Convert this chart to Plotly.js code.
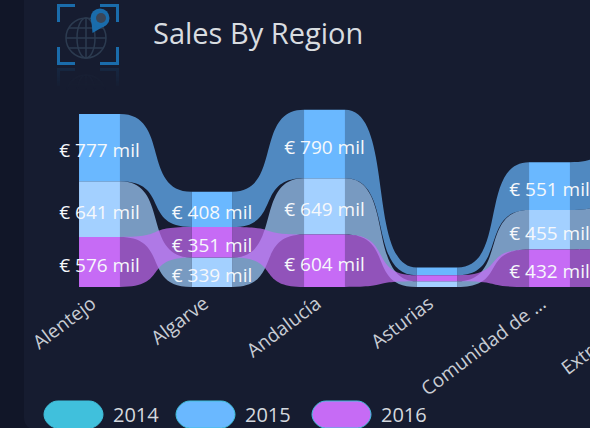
<!DOCTYPE html>
<html>
<head>
<meta charset="utf-8">
<script src="https://cdn.plot.ly/plotly-3.0.1.min.js"></script>
<style>
  html, body { margin: 0; width: 590px; height: 428px; overflow: hidden; background: #111628; }
  #card { position: absolute; left: 24px; top: -30px; width: 620px; height: 460px; background: #161c30; border-radius: 12px; }
  #icon { position: absolute; left: 50px; top: 0; }
  #plot { position: absolute; left: 0; top: 0; }
</style>
</head>
<body>
<div id="card"></div>
<div id="plot"></div>
<svg id="icon" width="80" height="100" viewBox="50 0 80 100">
  <defs>
    <g id="mark" fill="none">
      <path d="M75 5.500H58.500V22M100 5.500H117.500V22M58.500 47V63.500H75M117.500 47V63.500H100" stroke="#1a6cab" stroke-width="3"/>
      <g stroke="#2c3b50" stroke-width="1.500">
        <circle cx="86" cy="38" r="20"/>
        <ellipse cx="86" cy="38" rx="9" ry="20"/>
        <path d="M86 18V58M66 38H106M69 28H103M69 48H103"/>
      </g>
      <path d="M92.500 33 L91 17 L106 25 Z" fill="#1a6cab"/>
      <circle cx="100" cy="18" r="9.500" fill="#1a6cab"/>
      <circle cx="101" cy="18" r="5" fill="#3a4658"/>
    </g>
    <linearGradient id="fade" x1="0" y1="0" x2="0" y2="1">
      <stop offset="0" stop-color="#fff" stop-opacity="0.16"/>
      <stop offset="1" stop-color="#fff" stop-opacity="0"/>
    </linearGradient>
    <mask id="reflect" maskUnits="userSpaceOnUse" x="50" y="66" width="80" height="24">
      <rect x="50" y="66" width="80" height="24" fill="url(#fade)"/>
    </mask>
  </defs>
  <use href="#mark"/>
  <g mask="url(#reflect)"><use href="#mark" transform="matrix(1 0 0 -1 0 133)"/></g>
</svg>
<script>
"use strict";

// Values in thousands of euro (Asturias and Extremadura are estimates)
const regions = ["Alentejo", "Algarve", "Andalucía", "Asturias", "Comunidad de ...", "Extremadura"];
const years = ["2014", "2015", "2016"];
const sales2014 = [641, 339, 649, 65, 455, 617];
const sales2015 = [777, 408, 790, 90, 551, 663];
const sales2016 = [576, 351, 604, 70, 432, 480];
const hiddenLabels = ["Asturias"];

const barColors = ["#a3d0ff", "#6ab8ff", "#c66bf5"];
const legendColors = ["#40c0dc", "#6ab8ff", "#c66bf5"];
const series = [sales2014, sales2015, sales2016];

const W = 700, H = 428, plotBottom = 287;
const pxPerUnit = 0.0868;
const barWidth = 0.364;
const tickShift = 0.07;      // rotated labels end left of the bar centre
const labelDrop = 5 / pxPerUnit;

const pxX = px => px / W;
const pxY = px => (plotBottom - px) / plotBottom;

// ribbon charts re-rank every category: largest on top
function stackBases() {
    return regions.map((_, i) => {
        const order = series.map((s, k) => k).sort((a, b) => series[a][i] - series[b][i]);
        const bases = [0, 0, 0];
        let sum = 0;
        for (const k of order) { bases[k] = sum; sum += series[k][i]; }
        return bases;
    });
}
const bases = stackBases();

function ribbonPath(k, i) {
    const x0 = i + barWidth / 2, x1 = i + 1 - barWidth / 2;
    const cp0 = x0 + (x1 - x0) * 0.7, cp1 = x1 - (x1 - x0) * 0.7;
    const lo0 = bases[i][k], lo1 = bases[i + 1][k];
    const hi0 = lo0 + series[k][i], hi1 = lo1 + series[k][i + 1];
    return `M${x0},${hi0} C${cp0},${hi0} ${cp1},${hi1} ${x1},${hi1} ` +
           `L${x1},${lo1} C${cp1},${lo1} ${cp0},${lo0} ${x0},${lo0} Z`;
}

const shapes = [];
// draw order gives purple on top where ribbons cross
for (let k = 0; k < series.length; k++) {
    for (let i = 0; i < regions.length - 1; i++) {
        shapes.push({
            type: "path", xref: "x", yref: "y", layer: "below",
            path: ribbonPath(k, i),
            fillcolor: barColors[k], opacity: 0.7,
            line: { width: 0 },
        });
    }
}

// legend pills
const pillLeft = [44, 176, 312];
years.forEach((y, k) => {
    const l = pillLeft[k], r = l + 59, t = 401, b = 428, c = 13.5;
    const X = pxX, Y = pxY;
    shapes.push({
        type: "path", xref: "paper", yref: "paper",
        path: `M${X(l + c)},${Y(t)} L${X(r - c)},${Y(t)} ` +
              `C${X(r - c / 2)},${Y(t)} ${X(r)},${Y(t + c / 2)} ${X(r)},${Y(t + c)} ` +
              `C${X(r)},${Y(b - c / 2)} ${X(r - c / 2)},${Y(b)} ${X(r - c)},${Y(b)} ` +
              `L${X(l + c)},${Y(b)} ` +
              `C${X(l + c / 2)},${Y(b)} ${X(l)},${Y(b - c / 2)} ${X(l)},${Y(b - c)} ` +
              `C${X(l)},${Y(t + c / 2)} ${X(l + c / 2)},${Y(t)} ${X(l + c)},${Y(t)} Z`,
        fillcolor: legendColors[k],
        line: { color: "#40c0dc", width: 1 },
    });
});

const legendText = years.map((y, k) => ({
    text: y, xref: "paper", yref: "paper",
    x: pxX(pillLeft[k] + 67), xanchor: "left",
    y: pxY(414), yanchor: "middle",
    showarrow: false,
    font: { family: "Open Sans", size: 20, color: "#d4d8de" },
}));

const xs = regions.map((_, i) => i);

const traces = series.map((s, k) => ({
    type: "bar",
    x: xs, y: s,
    base: regions.map((_, i) => bases[i][k]),
    width: barWidth,
    name: years[k],
    marker: { color: barColors[k], line: { width: 0 } },
    hoverinfo: "skip",
}));

// data labels above everything, hidden where the band is too thin
series.forEach((s, k) => {
    traces.push({
        type: "scatter", mode: "text",
        x: xs,
        y: s.map((v, i) => bases[i][k] + v / 2 - labelDrop),
        text: s.map((v, i) => hiddenLabels.includes(regions[i]) ? "" : "€ " + v + " mil"),
        textposition: "middle center",
        textfont: { family: "Open Sans", size: 19, color: "#f6f8fb" },
        hoverinfo: "skip",
    });
});

const layout = {
    width: W, height: H,
    margin: { t: 0, r: 0, b: H - plotBottom, l: 0 },
    paper_bgcolor: "rgba(0,0,0,0)",
    plot_bgcolor: "rgba(0,0,0,0)",
    showlegend: false,
    barmode: "overlay",
    title: {
        text: "Sales By Region",
        x: 153 / W, xanchor: "left", xref: "container",
        y: 1 - 34 / H, yanchor: "middle", yref: "container",
        font: { family: "Open Sans", size: 29, color: "#d8dce0" },
    },
    xaxis: {
        range: [-99.5 / 112.5, (W - 99.5) / 112.5],
        tickmode: "array", tickvals: xs.map(v => v - tickShift), ticktext: regions,
        tickangle: -37,
        showgrid: false, zeroline: false, showline: false, ticks: "",
        ticklabelstandoff: 1,
        tickfont: { family: "Open Sans", size: 19, color: "#c8ccd4" },
    },
    yaxis: {
        range: [0, plotBottom / pxPerUnit],
        visible: false,
    },
    shapes: shapes,
    annotations: legendText,
};

Plotly.newPlot("plot", traces, layout, { displayModeBar: false, staticPlot: true });
</script>
</body>
</html>
